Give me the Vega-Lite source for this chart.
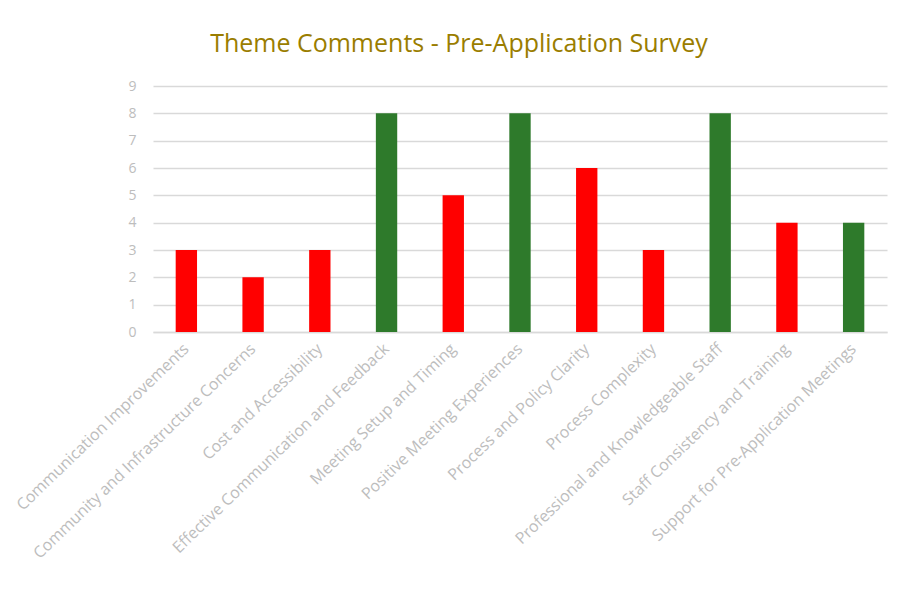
{
  "$schema": "https://vega.github.io/schema/vega-lite/v6.json",
  "autosize": "none",
  "width": 734,
  "height": 246,
  "padding": {"left": 153, "top": 86, "right": 14, "bottom": 265},
  "background": "white",
  "title": {
    "text": "Theme Comments - Pre-Application Survey",
    "font": "Open Sans",
    "fontSize": 25,
    "fontWeight": "normal",
    "color": "#9A7D00",
    "anchor": "middle",
    "frame": "group",
    "dx": -61,
    "offset": 22
  },
  "data": {
    "values": [
      {"theme": "Communication Improvements", "count": 3, "type": "neg"},
      {"theme": "Community and Infrastructure Concerns", "count": 2, "type": "neg"},
      {"theme": "Cost and Accessibility", "count": 3, "type": "neg"},
      {"theme": "Effective Communication and Feedback", "count": 8, "type": "pos"},
      {"theme": "Meeting Setup and Timing", "count": 5, "type": "neg"},
      {"theme": "Positive Meeting Experiences", "count": 8, "type": "pos"},
      {"theme": "Process and Policy Clarity", "count": 6, "type": "neg"},
      {"theme": "Process Complexity", "count": 3, "type": "neg"},
      {"theme": "Professional and Knowledgeable Staff", "count": 8, "type": "pos"},
      {"theme": "Staff Consistency and Training", "count": 4, "type": "neg"},
      {"theme": "Support for Pre-Application Meetings", "count": 4, "type": "pos"}
    ]
  },
  "mark": {"type": "bar"},
  "encoding": {
    "x": {
      "field": "theme",
      "type": "nominal",
      "sort": null,
      "title": null,
      "scale": {"paddingInner": 0.68, "paddingOuter": 0.34},
      "axis": {
        "labelAngle": -44,
        "labelAlign": "right",
        "labelBaseline": "middle",
        "labelFont": "Open Sans",
        "labelFontSize": 16,
        "labelColor": "#bdbdbd",
        "labelPadding": 14,
        "labelLimit": 400,
        "ticks": false,
        "domain": true,
        "domainColor": "#d9d9d9",
        "domainWidth": 1.5
      }
    },
    "y": {
      "field": "count",
      "type": "quantitative",
      "title": null,
      "scale": {"domain": [0, 9]},
      "axis": {
        "values": [0, 1, 2, 3, 4, 5, 6, 7, 8, 9],
        "labelFont": "Open Sans",
        "labelFontSize": 14,
        "labelColor": "#bdbdbd",
        "labelPadding": 17,
        "ticks": false,
        "domain": false,
        "gridColor": "#d9d9d9",
        "gridWidth": 1.5
      }
    },
    "color": {
      "field": "type",
      "type": "nominal",
      "scale": {"domain": ["neg", "pos"], "range": ["#FF0000", "#2E7A2B"]},
      "legend": null
    }
  },
  "config": {"view": {"stroke": null}}
}
